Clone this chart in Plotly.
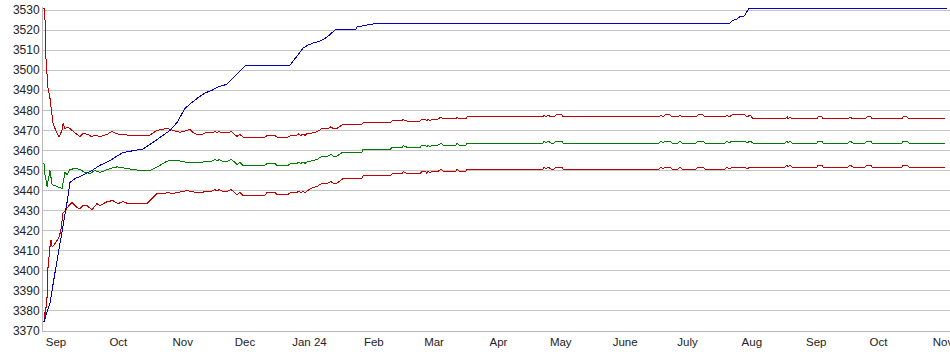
import pandas as pd
import plotly.graph_objects as go

# ---- data (x values are days elapsed since 2023-09-01) ----
START = pd.Timestamp("2023-09-01")

month_ticks = ["2023-09-01", "2023-10-01", "2023-11-01", "2023-12-01", "2024-01-01",
               "2024-02-01", "2024-03-01", "2024-04-01", "2024-05-01", "2024-06-01",
               "2024-07-01", "2024-08-01", "2024-09-01", "2024-10-01", "2024-11-01"]
month_labels = ["Sep", "Oct", "Nov", "Dec", "Jan 24", "Feb", "Mar", "Apr", "May",
                "June", "July", "Aug", "Sep", "Oct", "Nov"]

blue_days = [-5.8, -2.9, -0.5, 2.9, 5.3, 6.7, 9.2, 13.0, 17.3, 21.2, 26.0, 32.3, 37.1,
             41.9, 46.7, 51.5, 54.9, 58.3, 62.1, 65.5, 67.4, 69.3, 71.7, 75.1, 78.0,
             82.3, 91.5, 112.7, 118.9, 121.3, 123.7, 127.1, 130.5, 134.8, 144.4, 144.9,
             149.7, 155.0, 324.5, 325.5, 327.9, 329.3, 331.3, 333.7, 429.0]
blue_vals = [3374.6, 3384, 3399, 3419, 3434, 3444, 3446, 3447.7, 3450, 3452.6, 3455,
             3459, 3460, 3460.7, 3464, 3467.7, 3470, 3474, 3481, 3484, 3485.6, 3487,
             3488.6, 3490, 3491.6, 3493, 3502.5, 3502.5, 3511, 3512.5, 3513.5, 3514.5,
             3516.5, 3520.5, 3520.5, 3521.5, 3522.5, 3523.5, 3523.5, 3524.7, 3525.6,
             3526.7, 3527, 3530.8, 3530.8]

upper_early_days = [-5.8, -5.0, -4.8, -4.5, -3.9, -2.9, -1.9, -1.4, -0.5, 0.5, 1.4, 2.9,
                    3.4, 4.3, 5.8, 7.7, 10.1, 11.6, 13.0, 15.4, 17.3, 18.8, 21.2, 24.6,
                    27.0, 28.4, 30.8, 34.2, 40.4, 45.3, 48.6, 53.4, 56.3, 59.7, 63.1,
                    64.5, 66.0]
upper_early = [3531, 3521.5, 3505, 3499, 3491.6, 3486, 3477.6, 3473.6, 3471, 3468.7,
               3466.7, 3470, 3473.6, 3471, 3471.7, 3470, 3468, 3466.8, 3468.6, 3468,
               3466.8, 3467.7, 3466.8, 3468, 3469.6, 3468.6, 3468, 3467.7, 3467.7,
               3467.7, 3470, 3471, 3470, 3469, 3470, 3470.5, 3469]

mid_early_days = [-5.8, -5.3, -4.3, -2.9, -1.9, -0.5, 1.9, 2.9, 4.3, 5.3, 6.7, 9.2, 11.6,
                  14.0, 16.4, 18.8, 21.2, 26.0, 29.4, 34.2, 40.4, 45.3, 48.6, 53.4,
                  58.3, 63.1]
mid_early = [3453.7, 3448, 3442, 3450, 3443, 3442.5, 3441.5, 3441, 3449, 3448, 3450.5,
             3451, 3450.5, 3449, 3448.5, 3450, 3449, 3451, 3451.8, 3451, 3450, 3450,
             3451.7, 3454.7, 3455, 3454]

lower_early_days = [-5.8, -5.3, -4.3, -3.9, -2.9, -2.4, -1.9, -0.5, 1.4, 2.4, 3.4, 4.3,
                    5.8, 7.7, 10.1, 11.6, 13.0, 14.9, 17.3, 19.7, 21.2, 24.6, 27.4,
                    29.9, 32.3, 34.7, 43.8, 45.3, 48.6, 51.5, 53.9, 55.9, 58.3, 63.1,
                    65.5]
lower_early = [3379.5, 3376.6, 3387, 3401, 3412, 3415.5, 3412, 3413.5, 3416.5, 3420.5,
               3429, 3429.5, 3432, 3434, 3431.5, 3431, 3432.5, 3432.5, 3430.5, 3433.5,
               3432.5, 3434.5, 3435, 3433.5, 3434.5, 3433.5, 3433.5, 3435, 3438.5,
               3438.5, 3439, 3438.5, 3439, 3440, 3439.5]

band_days = [67.9, 70.3, 71.7, 75.1, 76.6, 77.5, 78.5, 79.9, 82.8, 84.3,
             86.2, 87.1, 88.6, 90.0, 100.6, 101.6, 105.4, 106.4, 111.7, 113.1,
             116.0, 116.5, 118.0, 118.9, 119.9, 120.8, 123.7, 125.7, 128.1, 131.0,
             132.4, 133.4, 135.3, 136.3, 138.2, 147.3, 147.8, 160.8, 161.8, 166.6,
             167.1, 169.0, 175.3, 176.2, 177.7, 178.6, 179.1, 180.1, 181.0, 183.9,
             185.4, 186.3, 192.6, 193.1, 194.0, 197.4, 197.9, 234.5, 235.0, 235.9,
             236.9, 238.3, 239.8, 240.7, 243.6, 244.1, 290.3, 291.3, 292.3, 293.2,
             295.6, 296.6, 299.5, 300.4, 301.4, 308.1, 309.1, 311.5, 312.5, 322.1,
             323.1, 324.0, 325.5, 331.7, 332.7, 334.1, 335.6, 351.0, 352.0, 352.4,
             353.4, 354.4, 366.4, 366.9, 368.8, 369.3, 381.3, 382.3, 383.7, 389.5,
             390.5, 392.4, 392.9, 407.3, 407.8, 409.7, 410.7, 428.0]

mid_late = [3453.9, 3453.9, 3454.7, 3454.7, 3455.5, 3454.7, 3455.5, 3454.7, 3454.7, 3455.5,
            3454.0, 3453.0, 3454.0, 3452.6, 3452.6, 3453.5, 3453.5, 3452.6, 3452.6, 3453.5,
            3453.5, 3454.3, 3453.5, 3454.3, 3453.5, 3454.3, 3455.0, 3455.5, 3457.2, 3457.2,
            3458.0, 3457.2, 3457.2, 3458.0, 3459.2, 3459.2, 3460.5, 3460.5, 3461.5, 3461.5,
            3462.4, 3461.6, 3461.6, 3462.6, 3462.6, 3461.6, 3462.6, 3461.8, 3462.6, 3462.6,
            3463.7, 3462.7, 3462.7, 3463.7, 3462.7, 3462.7, 3463.7, 3463.7, 3464.7, 3463.7,
            3464.7, 3463.7, 3463.7, 3464.7, 3464.7, 3463.7, 3463.7, 3464.7, 3463.7, 3464.7,
            3464.7, 3463.7, 3463.7, 3464.7, 3463.7, 3463.7, 3464.7, 3464.7, 3463.7, 3463.7,
            3464.7, 3463.7, 3464.7, 3464.7, 3463.7, 3464.7, 3463.7, 3463.7, 3464.7, 3463.7,
            3464.7, 3463.7, 3463.7, 3464.7, 3464.7, 3463.7, 3463.7, 3464.7, 3463.7, 3463.7,
            3464.7, 3464.7, 3463.7, 3463.7, 3464.7, 3464.7, 3463.7, 3463.7]

upper_late = [3467.9, 3467.9, 3468.7, 3468.7, 3469.5, 3468.7, 3469.5, 3468.7, 3468.7, 3469.5,
              3468.0, 3467.0, 3468.0, 3466.6, 3466.6, 3467.5, 3467.5, 3466.6, 3466.6, 3467.5,
              3467.5, 3468.3, 3467.5, 3468.3, 3467.5, 3468.3, 3468.8, 3469.3, 3471.0, 3471.0,
              3471.8, 3471.0, 3471.0, 3471.8, 3473.0, 3473.0, 3473.8, 3473.8, 3474.8, 3474.8,
              3475.4, 3474.6, 3474.6, 3475.6, 3475.6, 3474.6, 3475.6, 3474.8, 3475.6, 3475.6,
              3476.7, 3475.7, 3475.7, 3476.7, 3475.7, 3475.7, 3476.7, 3476.7, 3477.7, 3476.7,
              3477.7, 3476.7, 3476.7, 3477.7, 3477.7, 3476.7, 3476.7, 3477.7, 3476.7, 3477.7,
              3477.7, 3476.7, 3476.7, 3477.7, 3476.7, 3476.7, 3477.7, 3477.7, 3476.7, 3476.7,
              3477.7, 3476.7, 3477.7, 3477.7, 3476.7, 3477.7, 3475.7, 3475.7, 3476.7, 3475.7,
              3476.7, 3475.7, 3475.7, 3476.7, 3476.7, 3475.7, 3475.7, 3476.7, 3475.7, 3475.7,
              3476.7, 3476.7, 3475.7, 3475.7, 3476.7, 3476.7, 3475.7, 3475.7]

lower_late = [3438.9, 3438.9, 3439.7, 3439.7, 3440.5, 3439.7, 3440.5, 3439.7, 3439.7, 3440.5,
              3439.0, 3438.0, 3439.0, 3437.6, 3437.6, 3439.0, 3439.0, 3438.1, 3438.1, 3439.0,
              3439.0, 3439.8, 3439.0, 3439.8, 3439.0, 3439.8, 3441.5, 3442.0, 3443.7, 3443.7,
              3444.5, 3443.7, 3443.7, 3444.5, 3446.0, 3446.0, 3447.3, 3447.3, 3448.3, 3448.3,
              3449.4, 3448.6, 3448.6, 3449.6, 3449.6, 3448.6, 3449.6, 3448.8, 3449.6, 3449.6,
              3450.7, 3449.7, 3449.7, 3450.7, 3449.7, 3449.7, 3450.7, 3450.7, 3451.7, 3450.7,
              3451.7, 3450.7, 3450.7, 3451.7, 3451.7, 3450.7, 3450.7, 3451.7, 3450.7, 3451.7,
              3451.7, 3450.7, 3450.7, 3451.7, 3450.7, 3450.7, 3451.7, 3451.7, 3450.7, 3450.7,
              3451.7, 3450.7, 3451.7, 3451.7, 3450.7, 3451.7, 3451.7, 3451.7, 3452.7, 3451.7,
              3452.7, 3451.7, 3451.7, 3452.7, 3452.7, 3451.7, 3451.7, 3452.7, 3451.7, 3451.7,
              3452.7, 3452.7, 3451.7, 3451.7, 3452.7, 3452.7, 3451.7, 3451.7]

x_range_days = [-6.26, 430.4]
y_range = [3370, 3531.5]


def to_dates(days):
    return [START + pd.Timedelta(days=d) for d in days]


RED = "#c00000"
GREEN = "#007a00"
BLUE = "#0000c0"

fig = go.Figure()
fig.add_trace(go.Scatter(x=to_dates(upper_early_days + band_days), y=upper_early + upper_late,
                         mode="lines", line=dict(color=RED, width=1), hoverinfo="skip"))
fig.add_trace(go.Scatter(x=to_dates(mid_early_days + band_days), y=mid_early + mid_late,
                         mode="lines", line=dict(color=GREEN, width=1), hoverinfo="skip"))
fig.add_trace(go.Scatter(x=to_dates(lower_early_days + band_days), y=lower_early + lower_late,
                         mode="lines", line=dict(color=RED, width=1), hoverinfo="skip"))
fig.add_trace(go.Scatter(x=to_dates(blue_days), y=blue_vals,
                         mode="lines", line=dict(color=BLUE, width=1), hoverinfo="skip"))

fig.update_layout(
    width=950, height=355,
    margin=dict(l=43, r=0, t=7, b=24),
    plot_bgcolor="white", paper_bgcolor="white",
    showlegend=False,
    font=dict(family="Liberation Sans, Arial, sans-serif", size=12, color="#222222"),
    xaxis=dict(
        type="date",
        range=to_dates(x_range_days),
        tickmode="array", tickvals=month_ticks, ticktext=month_labels,
        showgrid=False, zeroline=False,
        showline=True, linecolor="#b8b8b8", linewidth=1,
        ticks="", tickfont=dict(size=11.5, color="#222222"),
        ticklabeloverflow="allow",
        automargin=False,
    ),
    yaxis=dict(
        range=y_range, tick0=3370, dtick=10,
        showgrid=True, gridcolor="#c4c4c4", gridwidth=1,
        zeroline=False, showline=True, linecolor="#b8b8b8", linewidth=1,
        ticks="", tickfont=dict(size=12, color="#222222"),
        automargin=False,
    ),
)

crisp_js = """
var gd = document.getElementById('{plot_id}');
function crisp() {
  gd.querySelectorAll('.scatterlayer path.js-line').forEach(function (p) {
    p.style.shapeRendering = 'crispEdges';
  });
}
crisp();
gd.on('plotly_afterplot', crisp);
"""

fig.write_html("out.html", config={"displayModeBar": False}, post_script=crisp_js)
